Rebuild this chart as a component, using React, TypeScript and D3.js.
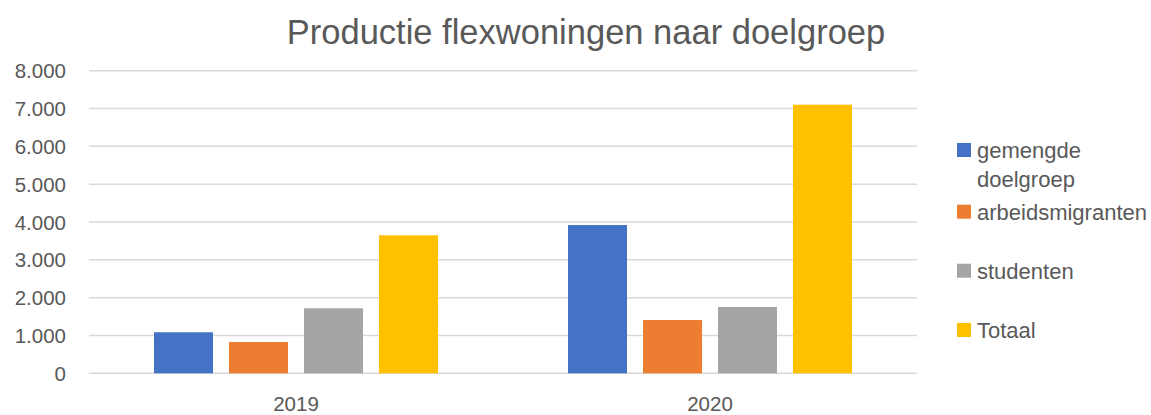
import React from "react";
import * as d3 from "d3";

const categories = ["2019", "2020"];
const seriesNames = ["gemengde doelgroep", "arbeidsmigranten", "studenten", "Totaal"];
const seriesColors = ["#4472C4", "#ED7D31", "#A5A5A5", "#FFC000"];
const gemengde = [1085, 3920];
const arbeidsmigranten = [827, 1409];
const studenten = [1718, 1753];
const totaal = [3648, 7101];
const yTicks = [0, 1000, 2000, 3000, 4000, 5000, 6000, 7000, 8000];
const title = "Productie flexwoningen naar doelgroep";

const seriesValues = [gemengde, arbeidsmigranten, studenten, totaal];

const W = 1151;
const H = 415;
const plot = { left: 89, right: 917, top: 70.7, bottom: 373.3 };
const font = "'Liberation Sans', Arial, sans-serif";
const textColor = "#595959";

function wrapLabel(s: string): string[] {
  if (s.length <= 16) return [s];
  return s.split(" ");
}

export default function App() {
  const x0 = d3.scaleBand<string>().domain(categories).range([plot.left, plot.right]).paddingInner(0).paddingOuter(0);
  const y = d3.scaleLinear().domain([0, 8000]).range([plot.bottom, plot.top]);
  const bw = 59;
  const gap = 16;
  const groupW = seriesNames.length * bw + (seriesNames.length - 1) * gap;
  const fmt = (v: number) => d3.format(",")(v).replace(/,/g, ".");

  const legendY = [150, 211.7, 270.7, 330];

  return (
    <svg width={W} height={H} style={{ position: "absolute", left: 0, top: 0, background: "#fff" }}>
      <text x={586} y={44} textAnchor="middle" fontFamily={font} fontSize={34.5} fill={textColor}>
        {title}
      </text>
      {yTicks.map((t) => (
        <g key={t}>
          <line x1={plot.left} x2={plot.right} y1={y(t)} y2={y(t)} stroke="#D9D9D9" strokeWidth={1.5} />
          <text x={66} y={y(t) + 7.5} textAnchor="end" fontFamily={font} fontSize={20.5} fill={textColor}>
            {fmt(t)}
          </text>
        </g>
      ))}
      {categories.map((c, ci) => {
        const cx = (x0(c) as number) + x0.bandwidth() / 2;
        const start = cx - groupW / 2;
        return (
          <g key={c}>
            {seriesValues.map((vals, si) => (
              <rect
                key={si}
                x={start + si * (bw + gap)}
                y={y(vals[ci])}
                width={bw}
                height={y(0) - y(vals[ci])}
                fill={seriesColors[si]}
              />
            ))}
            <text x={cx} y={411} textAnchor="middle" fontFamily={font} fontSize={20.5} fill={textColor}>
              {c}
            </text>
          </g>
        );
      })}
      {seriesNames.map((n, i) => {
        const lines = wrapLabel(n);
        return (
          <g key={n}>
            <rect x={957} y={legendY[i] - 7} width={14} height={14} fill={seriesColors[i]} />
            {lines.map((ln, li) => (
              <text key={li} x={977} y={legendY[i] + 8 + li * 29} fontFamily={font} fontSize={22} fill={textColor}>
                {ln}
              </text>
            ))}
          </g>
        );
      })}
    </svg>
  );
}
